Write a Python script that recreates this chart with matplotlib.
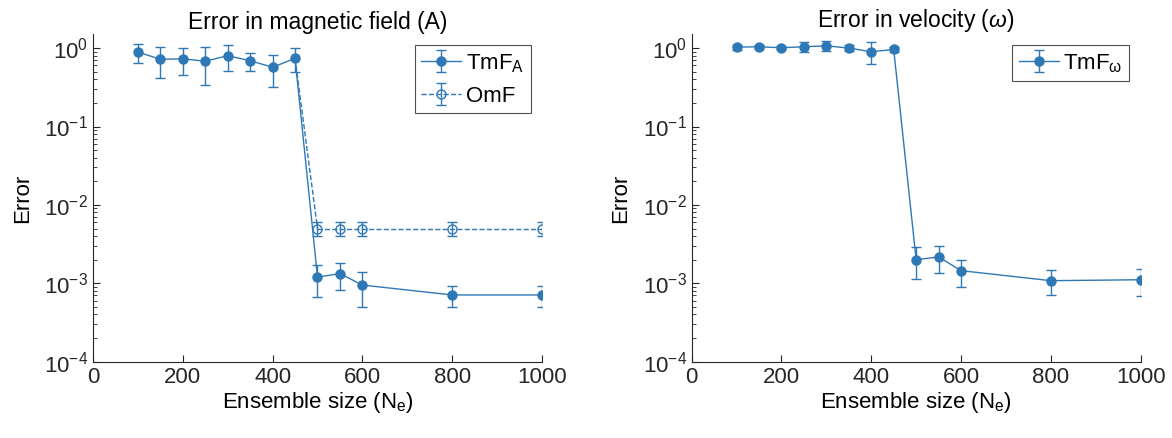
import numpy as np
import matplotlib.pyplot as plt
from matplotlib.ticker import LogLocator, FixedLocator, NullFormatter

plt.rcParams['font.family'] = ['Liberation Sans', 'DejaVu Sans']
plt.rcParams['mathtext.fontset'] = 'custom'
plt.rcParams['mathtext.rm'] = 'Liberation Sans'
plt.rcParams['mathtext.it'] = 'Liberation Sans:italic'
plt.rcParams['mathtext.sf'] = 'Liberation Sans'

# ensemble sizes
ne = [100, 150, 200, 250, 300, 350, 400, 450, 500, 550, 600, 800, 1000]
ne_omf = [500, 550, 600, 800, 1000]

# magnetic field error
tmf_A = [0.89, 0.72, 0.73, 0.68, 0.80, 0.69, 0.57, 0.74,
         1.2e-3, 1.33e-3, 9.5e-4, 7.1e-4, 7.1e-4]
tmf_A_err = [0.24, 0.31, 0.28, 0.34, 0.285, 0.185, 0.25, 0.25,
             5.3e-4, 5.0e-4, 4.5e-4, 2.1e-4, 2.1e-4]
omf = [5.0e-3, 5.0e-3, 5.0e-3, 5.0e-3, 5.0e-3]
omf_err = [1.0e-3, 1.0e-3, 1.0e-3, 1.0e-3, 1.0e-3]

# velocity error
tmf_w = [1.03, 1.04, 1.01, 1.04, 1.07, 1.0, 0.90, 0.96,
         2.0e-3, 2.17e-3, 1.45e-3, 1.08e-3, 1.11e-3]
tmf_w_err = [0.08, 0.07, 0.05, 0.15, 0.15, 0.08, 0.28, 0.08,
             8.8e-4, 8.3e-4, 5.5e-4, 3.8e-4, 4.2e-4]

ytick_labels = [r'$\mathregular{10^{-4}}$', r'$\mathregular{10^{-3}}$', r'$\mathregular{10^{-2}}$',
                r'$\mathregular{10^{-1}}$', r'$\mathregular{10^{0}}$']

blue = '#2f78b6'
fig = plt.figure(figsize=(11.72, 4.38), dpi=100)
ax1 = fig.add_axes([0.0794, 0.1742, 0.383, 0.7475])
ax2 = fig.add_axes([0.5902, 0.1742, 0.383, 0.7475])


def style(ax):
    ax.set_yscale('log')
    ax.set_xlim(0, 1000)
    ax.set_ylim(1e-4, 1.5)
    ax.xaxis.set_major_locator(FixedLocator([0, 200, 400, 600, 800, 1000]))
    ax.yaxis.set_major_locator(FixedLocator([1e-4, 1e-3, 1e-2, 1e-1, 1e0]))
    ax.yaxis.set_minor_locator(LogLocator(base=10, subs=np.arange(2, 10), numticks=20))
    ax.yaxis.set_minor_formatter(NullFormatter())
    ax.set_yticklabels(ytick_labels)
    for s in ['top', 'right']:
        ax.spines[s].set_visible(False)
    for s in ['left', 'bottom']:
        ax.spines[s].set_color('#262626')
        ax.spines[s].set_linewidth(0.8)
    ax.tick_params(which='both', direction='in', labelsize=16, colors='#262626')
    ax.tick_params(which='major', length=5)
    ax.tick_params(which='minor', length=3)
    ax.set_xlabel(r'Ensemble size (N$\mathregular{_e}$)', fontsize=16, labelpad=2)
    ax.set_ylabel('Error', fontsize=16, labelpad=8)


ax1.errorbar(ne, tmf_A, yerr=tmf_A_err, color=blue, marker='o', ms=6.5, lw=1,
             capsize=3.5, elinewidth=1, ecolor=blue, label=r'TmF$\mathregular{_A}$', zorder=3)
ax1.errorbar(ne_omf, omf, yerr=omf_err, color=blue, marker='o', ms=6.5, mfc='none',
             ls='--', lw=1, capsize=3.5, elinewidth=1, label='OmF', zorder=3)
# dashed link from last pre-collapse point
ax1.plot([ne[7], ne_omf[0]], [tmf_A[7], omf[0]], color=blue, ls='--', lw=1)
style(ax1)
ax1.set_title('Error in magnetic field (A)', fontsize=16.5, pad=4)
leg = ax1.legend(loc='upper right', fontsize=16, frameon=True, fancybox=False,
                 edgecolor='#262626', handlelength=1.8, borderpad=0.3,
                 labelspacing=0.5, handletextpad=0.2, bbox_to_anchor=(1.0, 1.0))
leg.get_frame().set_linewidth(0.8)

ax2.errorbar(ne, tmf_w, yerr=tmf_w_err, color=blue, marker='o', ms=6.5, lw=1,
             capsize=3.5, elinewidth=1, ecolor=blue, label=r'TmF$\mathregular{_\omega}$', zorder=3)
style(ax2)
ax2.set_title(r'Error in velocity ($\omega$)', fontsize=16.5, pad=4)
leg2 = ax2.legend(loc='upper right', fontsize=16, frameon=True, fancybox=False,
                  edgecolor='#262626', handlelength=1.8, borderpad=0.3,
                  handletextpad=0.2, bbox_to_anchor=(1.0, 1.0))
leg2.get_frame().set_linewidth(0.8)

fig.savefig('out.png', dpi=100)
